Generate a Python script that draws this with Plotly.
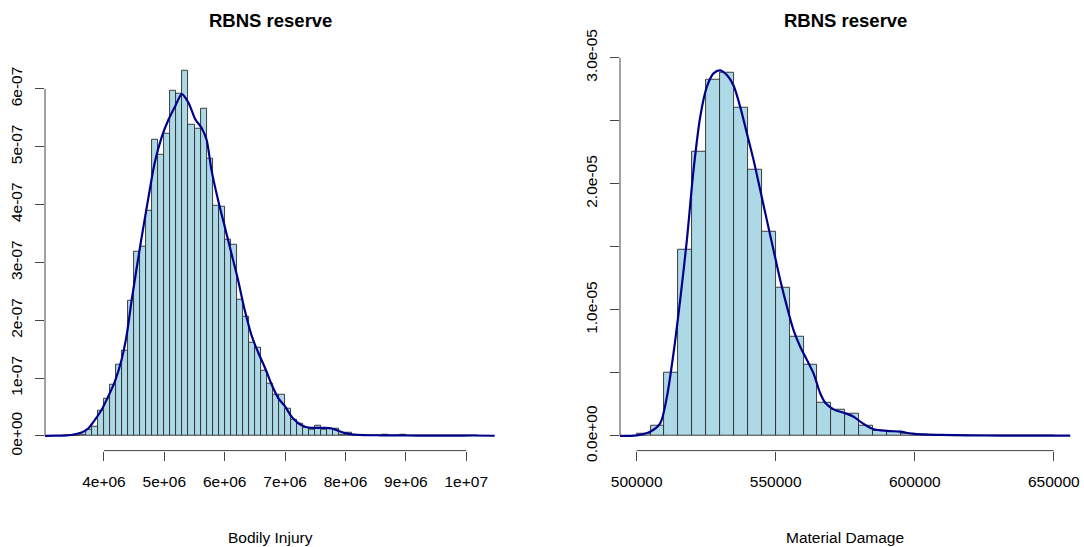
import plotly.graph_objects as go

# ---------------- data ----------------
# Left: Bodily Injury histogram (density, units 1e-7), bins of 1e5 starting at 3.3e6
bi_bin_start = 3.3e6
bi_bin_width = 1e5
bi_density = [0.01, 0.01, 0.01, 0.02, 0.11, 0.16, 0.44, 0.64, 0.88, 1.24,
              1.47, 2.34, 3.18, 3.28, 3.90, 5.12, 4.87, 5.22, 5.96, 5.92,
              6.32, 5.38, 5.31, 5.66, 4.80, 3.98, 3.96, 3.40, 3.30, 2.36,
              2.06, 1.62, 1.52, 1.12, 0.91, 0.72, 0.72, 0.48, 0.29, 0.22,
              0.14, 0.10, 0.18, 0.10, 0.13, 0.12, 0.03, 0.06, 0.01, 0.01,
              0.0, 0.01, 0.0, 0.02, 0.0, 0.01, 0.02, 0.0, 0.0, 0.01,
              0.01, 0.0, 0.0, 0.0, 0.0, 0.0, 0.01, 0.01, 0.01]
bi_kde_x = [3.01, 3.2, 3.38, 3.52, 3.63, 3.74, 3.85, 3.96, 4.07, 4.18, 4.29, 4.37,
            4.46, 4.60, 4.73, 4.84, 4.96, 5.07, 5.18, 5.29, 5.40, 5.51, 5.62, 5.70,
            5.78, 5.89, 6.00, 6.11, 6.22, 6.33, 6.45, 6.56, 6.67, 6.78, 6.89, 7.00,
            7.11, 7.22, 7.33, 7.44, 7.55, 7.66, 7.77, 7.88, 7.99, 8.1, 8.3, 8.6,
            8.9, 9.2, 9.5, 9.8, 10.1, 10.47]  # units 1e6
bi_kde_y = [0.0, 0.005, 0.01, 0.03, 0.06, 0.13, 0.28, 0.45, 0.68, 0.94, 1.31, 1.70,
            2.35, 3.28, 4.08, 4.72, 5.18, 5.47, 5.70, 5.91, 5.76, 5.48, 5.32, 5.12,
            4.60, 4.08, 3.62, 3.16, 2.70, 2.18, 1.72, 1.43, 1.17, 0.88, 0.65, 0.51,
            0.33, 0.22, 0.16, 0.14, 0.14, 0.14, 0.13, 0.09, 0.05, 0.03, 0.015, 0.012,
            0.01, 0.006, 0.005, 0.006, 0.008, 0.004]  # units 1e-7
bi_xticks = [4e6, 5e6, 6e6, 7e6, 8e6, 9e6, 1e7]
bi_xlabels = ["4e+06", "5e+06", "6e+06", "7e+06", "8e+06", "9e+06", "1e+07"]
bi_yticks = [0, 1e-7, 2e-7, 3e-7, 4e-7, 5e-7, 6e-7]
bi_ylabels = ["0e+00", "1e-07", "2e-07", "3e-07", "4e-07", "5e-07", "6e-07"]
bi_xrange = [3.024e6, 10.476e6]
bi_yrange = [-0.2528e-7, 6.573e-7]

# Right: Material Damage histogram (density, units 1e-5), bins of 5000 starting at 500000
md_bin_start = 500000
md_bin_width = 5000
md_density = [0.016, 0.085, 0.505, 1.48, 2.257, 2.828, 2.884, 2.604, 2.115, 1.618,
              1.176, 0.790, 0.568, 0.267, 0.206, 0.177, 0.079, 0.045, 0.037, 0.021,
              0.013, 0.005, 0.003, 0.002, 0.001, 0.001, 0.001, 0.0, 0.0, 0.001]
md_kde_x = [494000, 500000, 504860, 508450, 510860, 513240, 515640, 518050, 520450,
            522840, 525250, 527640, 530030, 532440, 534820, 537230, 539630, 542010,
            544420, 546830, 549200, 551620, 554030, 556400, 558810, 561220, 563590,
            566000, 567800, 570800, 575000, 578000, 580400, 582800, 585200, 590000,
            594800, 599600, 609200, 618800, 630800, 656000]
md_kde_y = [0.0, 0.005, 0.034, 0.10, 0.31, 0.656, 1.08, 1.554, 2.11, 2.53, 2.77, 2.876,
            2.90, 2.863, 2.78, 2.61, 2.40, 2.19, 1.95, 1.71, 1.475, 1.237, 1.026, 0.84,
            0.708, 0.603, 0.497, 0.339, 0.264, 0.211, 0.18, 0.153, 0.114, 0.079, 0.053,
            0.04, 0.034, 0.016, 0.008, 0.005, 0.003, 0.002]  # units 1e-5
md_xticks = [500000, 550000, 600000, 650000]
md_xlabels = ["500000", "550000", "600000", "650000"]
md_yticks = [0, 0.5e-5, 1.0e-5, 1.5e-5, 2.0e-5, 2.5e-5, 3.0e-5]
md_ylabels = ["0.0e+00", "", "1.0e-05", "", "2.0e-05", "", "3.0e-05"]
md_xrange = [494000, 656000]
md_yrange = [-0.116e-5, 3.016e-5]

titles = ["RBNS reserve", "RBNS reserve"]
xtitles = ["Bodily Injury", "Material Damage"]

# ---------------- styling ----------------
FONT = "Liberation Sans, Arial, Helvetica, sans-serif"
BAR_FILL = "#ADD8E6"
BAR_LINE = "#2b2b2b"
KDE_COLOR = "#00008B"
AXIS_COLOR = "#444444"
LABEL_SIZE = 15.5
TITLE_SIZE = 18.5

fig = go.Figure()

def add_panel(n, bin_start, bin_width, dens, dscale, kx, kxs, ky):
    xs = [bin_start + bin_width * (i + 0.5) for i in range(len(dens))]
    ys = [d * dscale for d in dens]
    suffix = "" if n == 1 else str(n)
    fig.add_trace(go.Bar(x=xs, y=ys, width=bin_width,
                         marker=dict(color=BAR_FILL, line=dict(color=BAR_LINE, width=0.9)),
                         xaxis="x" + suffix, yaxis="y" + suffix,
                         showlegend=False, hoverinfo="skip"))
    fig.add_trace(go.Scatter(x=[v * kxs for v in kx], y=[v * dscale for v in ky],
                             mode="lines", line=dict(color=KDE_COLOR, width=2.2, shape="spline", smoothing=0.8),
                             xaxis="x" + suffix, yaxis="y" + suffix,
                             showlegend=False, hoverinfo="skip"))

add_panel(1, bi_bin_start, bi_bin_width, bi_density, 1e-7, bi_kde_x, 1e6, bi_kde_y)
add_panel(2, md_bin_start, md_bin_width, md_density, 1e-5, md_kde_x, 1, md_kde_y)

ydom = [(547 - 450.6) / 547, (547 - 55.7) / 547]
xdom1 = [45.0 / 1084, 495.0 / 1084]
xdom2 = [620.0 / 1084, 1070.5 / 1084]

tickfont = dict(family=FONT, size=LABEL_SIZE, color="#000000")

def xaxis(dom, rng, tv, tt, anchor):
    return dict(domain=dom, range=rng, tickvals=tv, ticktext=tt, ticks="outside", ticklen=9,
                tickwidth=1, tickcolor=AXIS_COLOR, showline=False, showgrid=False, zeroline=False,
                tickfont=tickfont, anchor=anchor, ticklabelstandoff=8, automargin=False)

def yaxis(rng, tv, tt, anchor):
    return dict(domain=ydom, range=rng, tickvals=tv, ticktext=tt, ticks="outside", ticklen=9,
                tickwidth=1, tickcolor=AXIS_COLOR, showline=False, showgrid=False, zeroline=False,
                tickfont=tickfont, tickangle=-90, anchor=anchor, ticklabelstandoff=7, automargin=False)

fig.update_layout(
    template="none",
    width=1084, height=547,
    margin=dict(l=0, r=0, t=0, b=0, autoexpand=False),
    paper_bgcolor="white", plot_bgcolor="white",
    bargap=0,
    xaxis=xaxis(xdom1, bi_xrange, bi_xticks, bi_xlabels, "y"),
    yaxis=yaxis(bi_yrange, bi_yticks, bi_ylabels, "x"),
    xaxis2=xaxis(xdom2, md_xrange, md_xticks, md_xlabels, "y2"),
    yaxis2=yaxis(md_yrange, md_yticks, md_ylabels, "x2"),
    font=dict(family=FONT, color="#000000"),
)

# R-style axis lines spanning first to last tick
shapes = []
for xr, yr, xt, yt in [("x", "y", bi_xticks, bi_yticks), ("x2", "y2", md_xticks, md_yticks)]:
    shapes.append(dict(type="line", xref=xr, yref=yr + " domain", x0=xt[0], x1=xt[-1], y0=0, y1=0,
                       line=dict(color=AXIS_COLOR, width=1)))
    shapes.append(dict(type="line", xref=xr + " domain", yref=yr, x0=0, x1=0, y0=yt[0], y1=yt[-1],
                       line=dict(color=AXIS_COLOR, width=1)))
fig.update_layout(shapes=shapes)

annotations = []
for i, dom in enumerate([xdom1, xdom2]):
    cx = (dom[0] + dom[1]) / 2
    annotations.append(dict(text="<b>" + titles[i] + "</b>", x=cx, y=1 - 20 / 547, xref="paper", yref="paper",
                            xanchor="center", yanchor="middle", showarrow=False,
                            font=dict(family=FONT, size=TITLE_SIZE, color="#000000")))
    annotations.append(dict(text=xtitles[i], x=cx, y=1 - 537 / 547, xref="paper", yref="paper",
                            xanchor="center", yanchor="middle", showarrow=False,
                            font=dict(family=FONT, size=LABEL_SIZE, color="#000000")))
fig.update_layout(annotations=annotations)

fig.write_html("out.html", config={"displayModeBar": False},
               post_script="document.body.style.margin='0';document.body.style.padding='0';document.body.style.overflow='hidden';")
